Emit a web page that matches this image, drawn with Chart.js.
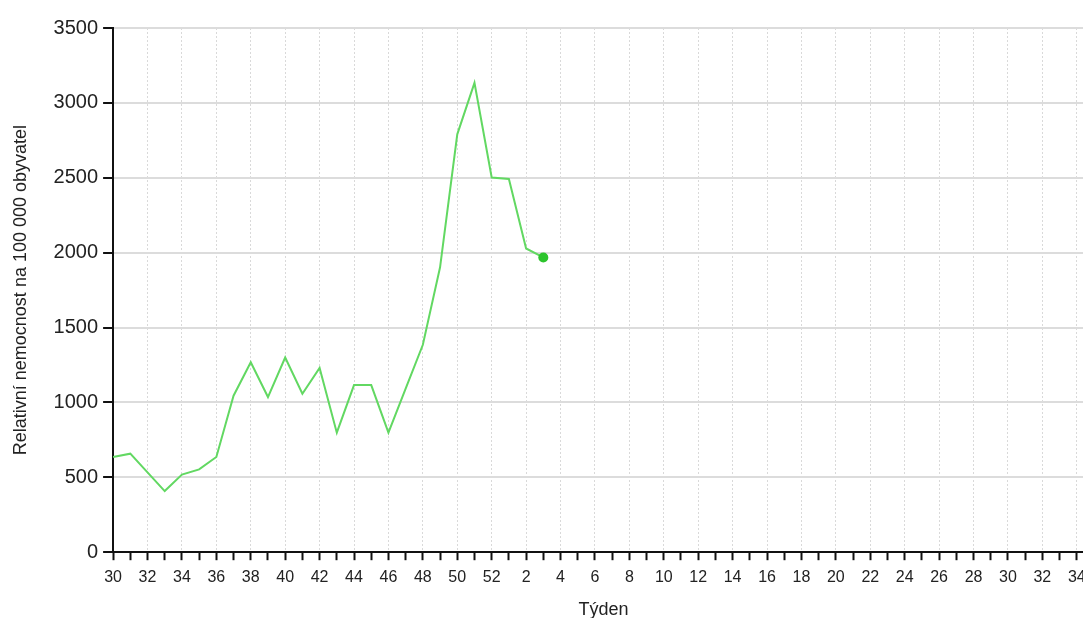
<!DOCTYPE html>
<html>
<head>
<meta charset="utf-8">
<script src="https://cdn.jsdelivr.net/npm/chart.js@4/dist/chart.umd.min.js"></script>
<style>
  html, body { margin: 0; padding: 0; background: #fff; overflow: hidden; }
  #wrap { width: 1110px; height: 618px; }
</style>
</head>
<body>
<div id="wrap"><canvas id="nemocnost"></canvas></div>
<script>
// týdny sezóny (30. týden až 35. týden dalšího roku)
var weeks = [30, 31, 32, 33, 34, 35, 36, 37, 38, 39, 40, 41, 42, 43, 44, 45, 46, 47, 48, 49, 50, 51, 52,
             1, 2, 3, 4, 5, 6, 7, 8, 9, 10, 11, 12, 13, 14, 15, 16, 17, 18, 19, 20, 21, 22, 23, 24, 25,
             26, 27, 28, 29, 30, 31, 32, 33, 34, 35];

// relativní nemocnost na 100 000 obyvatel
var incidence = [635, 658, 533, 408, 518, 553, 636, 1045, 1268, 1036, 1300, 1058, 1230, 798, 1116, 1116, 798,
                 1092, 1385, 1902, 2790, 3134, 2502, 2492, 2028, 1968];

var yTicks = [0, 500, 1000, 1500, 2000, 2500, 3000, 3500];

var values = weeks.map(function (w, i) { return i < incidence.length ? incidence[i] : null; });
var lastIdx = incidence.length - 1;

var ctx = document.getElementById("nemocnost");
var chart = new Chart(ctx, {
    type: 'line',
    data: {
        labels: weeks,
        datasets: [{
            label: 'Nemocnost',
            data: values,
            borderColor: '#62d862',
            borderWidth: 2,
            tension: 0,
            fill: false,
            pointRadius: function (c) { return c.dataIndex === lastIdx ? 5 : 0; },
            pointBackgroundColor: '#2cc42c',
            pointBorderColor: '#2cc42c',
            pointBorderWidth: 0
        }]
    },
    options: {
        responsive: true,
        maintainAspectRatio: false,
        animation: false,
        layout: { padding: { left: 10, top: 28, right: 16, bottom: -3 } },
        plugins: {
            legend: { display: false },
            tooltip: { enabled: false }
        },
        scales: {
            x: {
                offset: false,
                grid: {
                    color: function (c) { return c.index % 2 === 0 ? '#d9d9d9' : 'rgba(0,0,0,0)'; },
                    lineWidth: 1,
                    tickColor: '#111',
                    tickLength: 8,
                    tickWidth: 2
                },
                border: { color: '#111', width: 2, dash: [2, 2] },
                ticks: {
                    autoSkip: false,
                    maxRotation: 0,
                    color: '#222',
                    padding: 8,
                    font: { family: 'Liberation Sans, Arial', size: 16 },
                    callback: function (v, i) { return i % 2 === 0 ? String(weeks[i]) : ''; }
                },
                title: {
                    display: true,
                    text: 'Týden',
                    color: '#222',
                    padding: { top: 4, bottom: 0 },
                    font: { family: 'Liberation Sans, Arial', size: 18 }
                }
            },
            y: {
                min: 0,
                max: 3500,
                afterBuildTicks: function (axis) {
                    axis.ticks = yTicks.map(function (v) { return { value: v }; });
                },
                grid: {
                    color: '#dcdcdc',
                    lineWidth: 2,
                    tickColor: '#111',
                    tickLength: 10,
                    tickWidth: 2
                },
                border: { color: '#111', width: 2 },
                ticks: {
                    color: '#222',
                    padding: 5,
                    font: { family: 'Liberation Sans, Arial', size: 20 },
                    callback: function (v) { return String(v); }
                },
                title: {
                    display: true,
                    text: 'Relativní nemocnost na 100 000 obyvatel',
                    color: '#222',
                    padding: { top: 0, bottom: 17 },
                    font: { family: 'Liberation Sans, Arial', size: 18 }
                }
            }
        }
    }
});
</script>
</body>
</html>
